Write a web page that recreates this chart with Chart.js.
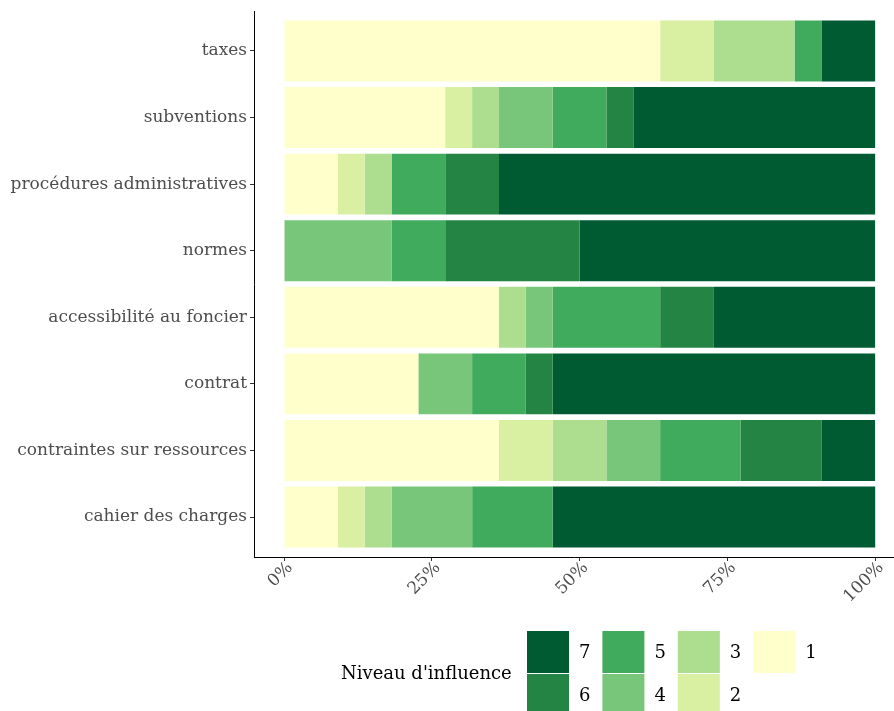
<!DOCTYPE html>
<html>
<head>
<meta charset="utf-8">
<script src="https://cdn.jsdelivr.net/npm/chart.js@4.4.0/dist/chart.umd.min.js"></script>
<style>
  html, body { margin: 0; padding: 0; background: #fff; }
</style>
</head>
<body>
<canvas id="myChart" width="894" height="711"></canvas>
<script>
// categories from top to bottom
const categories = ["taxes", "subventions", "procédures administratives", "normes",
  "accessibilité au foncier", "contrat", "contraintes sur ressources", "cahier des charges"];
const levels = ["1", "2", "3", "4", "5", "6", "7"];

// share of answers (%) for each level of influence
const level1 = [63.64, 27.27, 9.09, 0, 36.36, 22.73, 36.36, 9.09];
const level2 = [9.09, 4.55, 4.55, 0, 0, 0, 9.09, 4.55];
const level3 = [13.64, 4.55, 4.55, 0, 4.55, 0, 9.09, 4.55];
const level4 = [0, 9.09, 0, 18.18, 4.55, 9.09, 9.09, 13.64];
const level5 = [4.55, 9.09, 9.09, 9.09, 18.18, 9.09, 13.64, 13.64];
const level6 = [0, 4.55, 9.09, 22.73, 9.09, 4.55, 13.64, 0];
const level7 = [9.09, 40.91, 63.64, 50, 27.27, 54.55, 9.09, 54.55];

const xTicks = [0, 25, 50, 75, 100];
const legendTitle = "Niveau d'influence";

const colors = ["#ffffcc", "#d9f0a3", "#addd8e", "#78c679", "#41ab5d", "#238443", "#005a32"];
const series = [level1, level2, level3, level4, level5, level6, level7];

const FONT = "DejaVu Serif";
Chart.defaults.font.family = FONT;
Chart.defaults.font.size = 17;

const datasets = series.map((vals, i) => ({
  label: levels[i],
  data: vals.map((v, j) => ({ x: v, y: j })),
  backgroundColor: colors[i],
  borderWidth: 0,
  categoryPercentage: 1,
  barPercentage: 0.915
}));

// legend drawn by hand: two rows, filled column by column (7,6 | 5,4 | 3,2 | 1)
const legendBox = {
  id: "legendBox",
  afterDraw(chart) {
    const ctx = chart.ctx;
    ctx.save();
    ctx.font = "18px '" + FONT + "'";
    ctx.textBaseline = "middle";
    ctx.textAlign = "left";
    ctx.fillStyle = "#000";
    ctx.fillText(legendTitle, 341, 674);
    const order = levels.slice().reverse();
    order.forEach((lv, k) => {
      const col = Math.floor(k / 2), row = k % 2;
      const x = 527 + col * 75.4, y = 631 + row * 43;
      ctx.fillStyle = colors[levels.indexOf(lv)];
      ctx.fillRect(x, y, 42, 42);
      ctx.fillStyle = "#000";
      ctx.fillText(lv, x + 52, y + 22);
    });
    ctx.restore();
  }
};

new Chart(document.getElementById("myChart"), {
  type: "bar",
  data: { datasets: datasets },
  options: {
    indexAxis: "y",
    responsive: false,
    animation: false,
    layout: { padding: { top: 11, right: 0, bottom: 0, left: 0 } },
    plugins: {
      legend: { display: false },
      tooltip: { enabled: false }
    },
    scales: {
      x: {
        type: "linear",
        stacked: true,
        min: -5.08,
        max: 103.2,
        afterBuildTicks: s => { s.ticks = xTicks.map(v => ({ value: v })); },
        afterFit: s => { s.height = 154; s.paddingLeft = 0; s.paddingRight = 0; },
        border: { display: true, color: "#000", width: 1 },
        grid: { drawOnChartArea: false, drawTicks: true, tickLength: 4, color: "#333" },
        ticks: {
          color: "#4d4d4d",
          minRotation: 45,
          maxRotation: 45,
          padding: -3,
          labelOffset: 6,
          autoSkip: false,
          callback: v => v + "%"
        }
      },
      y: {
        type: "linear",
        stacked: true,
        reverse: true,
        offset: false,
        min: -0.6,
        max: 7.6,
        afterBuildTicks: s => { s.ticks = categories.map((c, i) => ({ value: i })); },
        afterFit: s => { s.width = 254; s.paddingTop = 0; s.paddingBottom = 0; },
        border: { display: true, color: "#000", width: 1 },
        grid: { offset: false, drawOnChartArea: false, drawTicks: true, tickLength: 4, color: "#333" },
        ticks: {
          color: "#4d4d4d",
          padding: 3,
          autoSkip: false,
          callback: v => categories[v]
        }
      }
    }
  },
  plugins: [legendBox]
});
</script>
</body>
</html>
